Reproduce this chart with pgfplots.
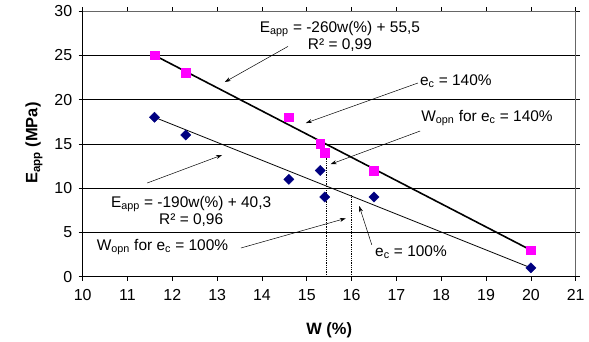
\documentclass[border=0pt]{standalone}
\usepackage{pgfplots}
\pgfplotsset{compat=1.18}
\usepackage{fontspec}
\setmainfont{Liberation Sans}
\usetikzlibrary{arrows.meta}
\definecolor{navyc}{RGB}{0,0,128}
\definecolor{magc}{RGB}{255,0,255}
\begin{document}
\begin{tikzpicture}
\begin{axis}[
  at={(0,0)}, anchor=south west,
  scale only axis, width=493bp, height=265.7bp,
  xmin=10, xmax=21, ymin=0, ymax=30,
  xtick={10,...,21}, ytick={0,5,...,30},
  tick align=outside, tick style={black, line width=0.6pt},
  major tick length=4bp,
  ymajorgrids, grid style={black, line width=0.5pt},
  axis line style={draw=none},
  tick label style={font=\fontsize{16}{18}\selectfont},
  xticklabel style={yshift=-5bp},
  yticklabel style={xshift=-3bp},
  /pgf/number format/assume math mode=true,
  xlabel={\textbf{W (\%)}},
  ylabel={\textbf{E\textsubscript{app} (MPa)}},
  xlabel style={font=\fontsize{16.5}{18}\selectfont, at={(axis description cs:0.5,-0.2)}, anchor=center},
  ylabel style={font=\fontsize{16.5}{18}\selectfont, at={(axis description cs:-0.0988,0.503)}, anchor=center},
  clip=false,
  every axis plot/.append style={line cap=butt},
]
% plot area border
\draw[gray!80!black, line width=0.6pt] (axis cs:10,30) -- (axis cs:21,30) -- (axis cs:21,0);
% fit lines
\addplot[black, line width=1.6pt, no marks] coordinates {(11.6,25) (20,3)};
\addplot[black, line width=0.8pt, no marks] coordinates {(11.6,18) (20,1)};
% dotted verticals
\addplot[black, densely dotted, line width=0.8pt, no marks] coordinates {(15.44,0) (15.44,14.3)};
\addplot[black, densely dotted, line width=0.8pt, no marks] coordinates {(16.0,0) (16.0,9.2)};
% data
\addplot[only marks, mark=square*, mark size=4.4bp, color=magc] coordinates {
(11.6,25) (12.3,23) (14.6,18) (15.3,15) (15.4,14) (16.5,12) (20,3)};
\addplot[only marks, mark=square*, mark size=3.6bp, mark options={rotate=45}, color=navyc] coordinates {
(11.6,18) (12.3,16) (14.6,11) (15.3,12) (15.4,9) (16.5,9) (20,1)};
% axis lines
\draw[black, line width=0.8pt] (axis cs:10,30) -- (axis cs:10,0) -- (axis cs:21,0);
% annotations
\begin{scope}[font=\fontsize{15.5}{17}\selectfont]
\node[align=center] at (axis cs:15.74,27.1) {E\textsubscript{app} = -260w(\%) + 55,5\\R² = 0,99};
\draw[-{Stealth[length=6pt,width=4pt]}, line width=0.5pt] (axis cs:14.58,26.0) -- (axis cs:13.17,21.98);
\node[anchor=west, inner sep=1pt] at (axis cs:17.5,22.05) {e\textsubscript{c} = 140\%};
\draw[-{Stealth[length=6pt,width=4pt]}, line width=0.5pt] (axis cs:17.48,21.87) -- (axis cs:14.98,17.35);
\node[anchor=west, inner sep=1pt] at (axis cs:17.53,17.9) {W\textsubscript{opn} for e\textsubscript{c} = 140\%};
\draw[-{Stealth[length=6pt,width=4pt]}, line width=0.5pt] (axis cs:17.53,16.45) -- (axis cs:15.53,12.7);
\node[align=center] at (axis cs:12.42,7.36) {E\textsubscript{app} = -190w(\%) + 40,3\\R² = 0,96};
\draw[-{Stealth[length=6pt,width=4pt]}, line width=0.5pt] (axis cs:11.44,10.58) -- (axis cs:13.11,13.74);
\node at (axis cs:11.78,3.35) {W\textsubscript{opn} for e\textsubscript{c} = 100\%};
\draw[-{Stealth[length=6pt,width=4pt]}, line width=0.5pt] (axis cs:13.53,3.24) -- (axis cs:15.87,6.59);
\node[anchor=west, inner sep=1pt] at (axis cs:16.5,2.79) {e\textsubscript{c} = 100\%};
\draw[-{Stealth[length=6pt,width=4pt]}, line width=0.5pt] (axis cs:16.45,3.6) -- (axis cs:16.17,7.98);
\end{scope}
\end{axis}
\pgfresetboundingbox
\path (-82.7bp,-65.3bp) rectangle (506.3bp,276.7bp);
\end{tikzpicture}
\end{document}
